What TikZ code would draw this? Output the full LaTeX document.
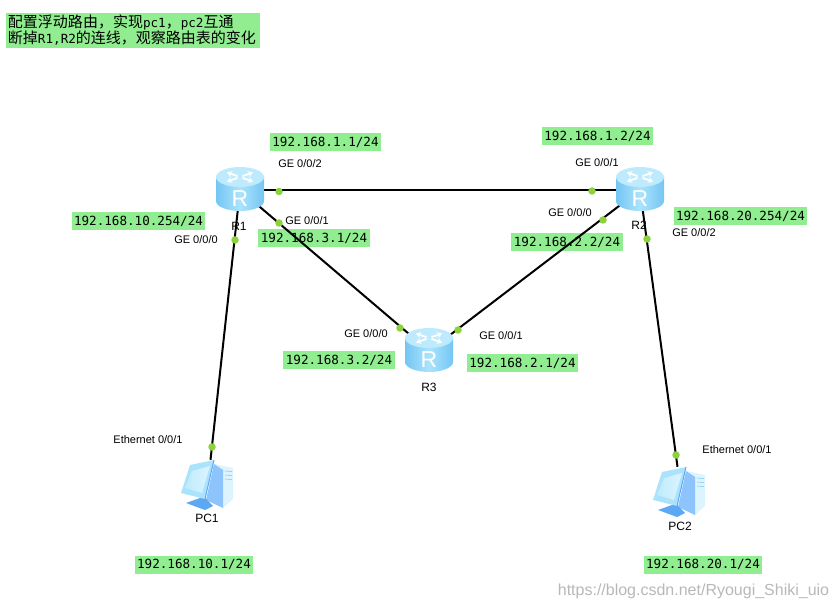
\documentclass[tikz,border=0pt]{standalone}
\usepackage{fontspec}
\setmainfont{Liberation Sans}
\setmonofont{DejaVu Sans Mono}
\newfontfamily\cjk{Noto Sans CJK SC}
\usetikzlibrary{arrows.meta,positioning}
\definecolor{lab}{HTML}{90EE90}
\definecolor{dot}{HTML}{8CD23C}
\definecolor{skyA}{HTML}{74C6F4}
\definecolor{skyB}{HTML}{ABE3FC}
\definecolor{skyC}{HTML}{BDEBFD}
\definecolor{skyD}{HTML}{5DA8F4}
\definecolor{skyE}{HTML}{DDF4FE}
\definecolor{skyF}{HTML}{8CC4FB}
\newcommand{\ttl}[1]{{\fontsize{12.6}{16}\selectfont\ttfamily #1}}
\newcommand{\routericon}[2]{%
  \begin{scope}[shift={(#1,#2)}]
    \path[left color=skyA,right color=skyA,middle color=skyB] (-24,-13) -- (-24,11) arc[start angle=180,end angle=0,x radius=24,y radius=10] -- (24,-13) -- cycle;
    \path[fill=skyC] (0,-13) ellipse[x radius=24,y radius=10];
    \foreach \a in {35,145,215,325}
      \draw[white,line width=1.8pt,-{Stealth[length=5pt,width=6pt]}] ({3*cos(\a)},{-13-1.5*sin(\a)}) -- ({16*cos(\a)},{-13-8*sin(\a)});
    \node[font=\fontsize{23}{23}\selectfont,text=white,inner sep=0] (#1r#2) at (0,9) {R};
  \end{scope}}
\newcommand{\pcicon}[2]{%
  \begin{scope}[shift={(#1,#2)}]
    % tower
    \path[fill=skyE] (6,-21) -- (25,-17) -- (25,14) -- (15,23) -- cycle;
    \path[fill=skyF] (6,-21) -- (15,-15) -- (15,23) -- (-2,15) -- cycle;
    \foreach \y in {-14,-10,-6} \draw[skyA,line width=.5pt] (17,\y) -- (24,\y+.5);
    % stand
    \path[fill=skyD] (-22,18) -- (-8,13) -- (-3,13) -- (5,21) -- (-3,25) -- cycle;
    % monitor
    \path[fill=skyB] (-18,-20) -- (6,-25) -- (-3,14) -- (-27,8) -- cycle;
    \draw[skyD,line width=1pt] (6,-25) -- (-3,14);
    \path[left color=skyC,right color=skyE] (-16,-14) -- (2,-19) -- (-6,8) -- (-23,3) -- cycle;
  \end{scope}}
\tikzset{
  ipbox/.style={fill=lab,inner xsep=2.5pt,inner ysep=0pt,minimum height=18pt,font=\fontsize{12.6}{14}\selectfont\ttfamily},
  portlab/.style={inner sep=0pt,font=\fontsize{11}{13}\selectfont},
  devlab/.style={inner sep=0pt,font=\fontsize{12}{14}\selectfont},
  hub/.style={inner sep=0pt,minimum size=0pt},
  pcbox/.style={inner sep=0pt,minimum width=50pt,minimum height=50pt},
  wire/.style={line width=2pt,draw=black},
  portdot/.style={circle,fill=dot,inner sep=0pt,minimum size=7.5pt},
}
\begin{document}
\begin{tikzpicture}[x=1pt,y=-1pt]
\useasboundingbox (0,0) rectangle (838,609);
\node[hub] (R1) at (240,190) {};
\node[hub] (R2) at (640,190) {};
\node[hub] (R3) at (429,351) {};
\node[pcbox] (PC1) at (210.5,485) {};
\node[pcbox] (PC2) at (677.5,492) {};
% task note
\node[fill=lab,inner sep=2pt,text width=250pt,minimum height=33pt,align=left,font=\fontsize{15}{16}\selectfont\cjk] (note) at (133,30.5)
  {配置浮动路由，实现\ttl{pc1}，\ttl{pc2}互通\\断掉\ttl{R1,R2}的连线，观察路由表的变化};
% addresses
\foreach \n/\x/\y/\l in {ipa/325.5/142.5/{192.168.1.1/24},ipb/597.5/136/{192.168.1.2/24},ipc/138.5/221/{192.168.10.254/24},ipd/314/238.5/{192.168.3.1/24},ipe/567/242/{192.168.2.2/24},ipf/740.5/216.5/{192.168.20.254/24},ipg/339/360/{192.168.3.2/24},iph/522.5/363/{192.168.2.1/24},ipi/194/564.5/{192.168.10.1/24},ipj/703/564.5/{192.168.20.1/24}}
  \node[ipbox] (\n) at (\x,\y) {\l};
% links
\draw[wire] (R1) -- (R2);
\draw[wire] (R1) -- (R3);
\draw[wire] (R2) -- (R3);
\draw[wire] (R1) -- (PC1.north);
\draw[wire] (R2) -- (PC2.north);
\routericon{240}{190}
\routericon{640}{190}
\routericon{429}{351}
\pcicon{208}{485}
\pcicon{680}{492}
% ports
\foreach \n/\x/\y in {da/279/191.5,db/592/191,dc/279/223,dd/235/240,de/603/220,df/647/239,dg/400/328,dh/458/330,di/212/447,dj/676/455}
  \node[portdot] (\n) at (\x,\y) {};
\foreach \n/\x/\y/\l in {pa/300/164/{GE 0/0/2},pb/597/163/{GE 0/0/1},pc/307/221/{GE 0/0/1},pd/196/240/{GE 0/0/0},pe/570/213/{GE 0/0/0},pf/694/233/{GE 0/0/2},pg/366/334/{GE 0/0/0},ph/501/336/{GE 0/0/1},pi/148/440/{Ethernet 0/0/1},pj/737/450/{Ethernet 0/0/1}}
  \node[portlab] (\n) at (\x,\y) {\l};
\foreach \n/\x/\y/\l in {na/239/226/R1,nb/639/225/R2,nc/429/387/R3,nd/207/518/PC1,ne/680/526/PC2}
  \node[devlab] (\n) at (\x,\y) {\l};
\node[inner sep=0pt,text=black!28,font=\fontsize{16}{18}\selectfont] (mark) at (693.5,591) {https://blog.csdn.net/Ryougi\_Shiki\_uio};
\end{tikzpicture}
\end{document}
